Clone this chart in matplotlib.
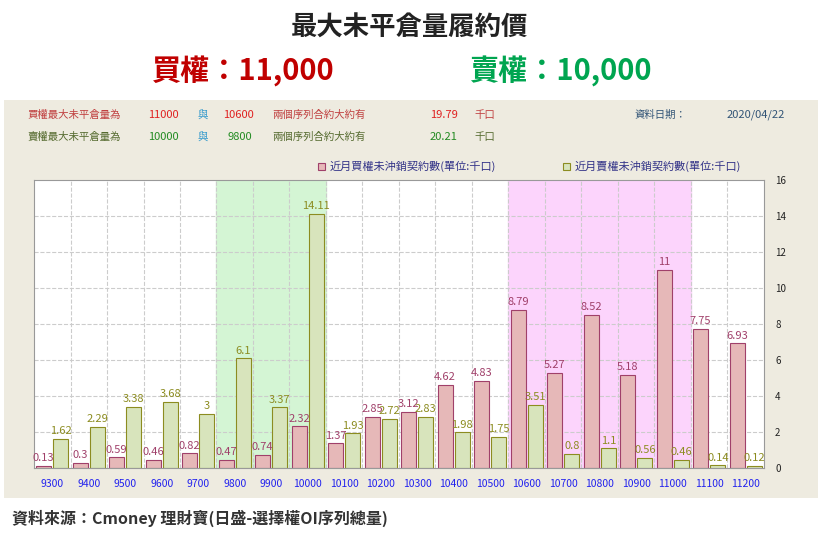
import matplotlib
matplotlib.use("Agg")
import matplotlib.pyplot as plt
from matplotlib import font_manager
from matplotlib.patches import Rectangle
import numpy as np

names = sorted({f.name for f in font_manager.fontManager.ttflist if 'CJK' in f.name})
pick = [n for n in names if 'TC' in n] or names
plt.rcParams['font.family'] = (pick[:1] if pick else []) + ['DejaVu Sans']

strikes = ['9300','9400','9500','9600','9700','9800','9900','10000','10100','10200',
           '10300','10400','10500','10600','10700','10800','10900','11000','11100','11200']
calls = [0.13,0.3,0.59,0.46,0.82,0.47,0.74,2.32,1.37,2.85,3.12,4.62,4.83,8.79,5.27,8.52,5.18,11,7.75,6.93]
puts = [1.62,2.29,3.38,3.68,3,6.1,3.37,14.11,1.93,2.72,2.83,1.98,1.75,3.51,0.8,1.1,0.56,0.46,0.14,0.12]
call_lbls = ['0.13','0.3','0.59','0.46','0.82','0.47','0.74','2.32','1.37','2.85','3.12','4.62','4.83','8.79','5.27','8.52','5.18','11','7.75','6.93']
put_lbls = ['1.62','2.29','3.38','3.68','3','6.1','3.37','14.11','1.93','2.72','2.83','1.98','1.75','3.51','0.8','1.1','0.56','0.46','0.14','0.12']

W, H = 820, 541
fig = plt.figure(figsize=(W/100, H/100), dpi=100)
fig.patch.set_facecolor('white')

bg = fig.add_axes([4/W, 1-498/H, 814/W, 398/H], zorder=-5)
bg.set_facecolor('#eeebe0'); bg.set_xticks([]); bg.set_yticks([])
for s in bg.spines.values(): s.set_visible(False)

fig.text(0.5, 1-28/H, '最大未平倉量履約價', ha='center', va='center', fontsize=19, fontweight='bold', color='#222222')
fig.text(243/W, 1-71/H, '買權：11,000', ha='center', va='center', fontsize=21, fontweight='bold', color='#c00000')
fig.text(560/W, 1-71/H, '賣權：10,000', ha='center', va='center', fontsize=21, fontweight='bold', color='#00a550')

fs = 7.5
y1, y2 = 1-115/H, 1-137/H
fig.text(27/W, y1, '買權最大未平倉量為', fontsize=fs, color='#c04040', va='center')
fig.text(148/W, y1, '11000', fontsize=fs+0.5, color='#e02020', va='center')
fig.text(198/W, y1, '與', fontsize=fs, color='#3399cc', va='center')
fig.text(223/W, y1, '10600', fontsize=fs+0.5, color='#e02020', va='center')
fig.text(272/W, y1, '兩個序列合約大約有', fontsize=fs, color='#c04040', va='center')
fig.text(430/W, y1, '19.79', fontsize=fs+0.5, color='#e02020', va='center')
fig.text(474/W, y1, '千口', fontsize=fs, color='#c04040', va='center')
fig.text(635/W, y1, '資料日期：', fontsize=fs, color='#335577', va='center')
fig.text(727/W, y1, '2020/04/22', fontsize=fs+0.5, color='#335577', va='center')
fig.text(27/W, y2, '賣權最大未平倉量為', fontsize=fs, color='#556b2f', va='center')
fig.text(148/W, y2, '10000', fontsize=fs+0.5, color='#228b22', va='center')
fig.text(198/W, y2, '與', fontsize=fs, color='#3399cc', va='center')
fig.text(228/W, y2, '9800', fontsize=fs+0.5, color='#228b22', va='center')
fig.text(272/W, y2, '兩個序列合約大約有', fontsize=fs, color='#556b2f', va='center')
fig.text(430/W, y2, '20.21', fontsize=fs+0.5, color='#228b22', va='center')
fig.text(474/W, y2, '千口', fontsize=fs, color='#556b2f', va='center')

ax = fig.add_axes([34/W, 1-468/H, 730/W, 288/H])
ax.set_facecolor('white')
x = np.arange(len(strikes))
ax.set_xlim(-0.5, len(strikes)-0.5)
ax.set_ylim(0, 16)
ax.axvspan(4.5, 7.5, color='#d4f5d4', zorder=0)
ax.axvspan(12.5, 17.5, color='#fcd4fc', zorder=0)
for b in np.arange(0.5, len(strikes)-0.5, 1):
    ax.axvline(b, color='#cccccc', ls='--', lw=0.8, zorder=1)
for yv in range(2, 16, 2):
    ax.axhline(yv, color='#cccccc', ls='--', lw=0.8, zorder=1)
bw = 0.42
off = 0.235
ax.bar(x-off, calls, bw, color='#e6b8b8', edgecolor='#a0406a', lw=0.8, zorder=2)
ax.bar(x+off, puts, bw, color='#d8e4bc', edgecolor='#8c8c20', lw=0.8, zorder=2)
for i in x:
    ax.text(i-off, calls[i]+0.15, call_lbls[i], ha='center', va='bottom', fontsize=8, color='#a0406a', zorder=3)
    ax.text(i+off, puts[i]+0.15, put_lbls[i], ha='center', va='bottom', fontsize=8, color='#8c8c20', zorder=3)
ax.set_xticks(x)
ax.set_xticklabels(strikes, fontsize=7.5, color='#2222ee')
ax.yaxis.tick_right()
ax.set_yticks(range(0, 17, 2))
ax.tick_params(axis='y', labelsize=7, length=0, colors='#222222', pad=8)
ax.tick_params(axis='x', length=0, pad=8)
for s in ax.spines.values():
    s.set_color('#999999'); s.set_linewidth(0.8)

fig.patches.append(Rectangle((318/W, 1-170/H), 7/W, 7/H, transform=fig.transFigure, facecolor='#e6b8b8', edgecolor='#a0406a', lw=0.8))
fig.text(330/W, 1-166/H, '近月買權未沖銷契約數(單位:千口)', fontsize=8, color='#333388', va='center')
fig.patches.append(Rectangle((563/W, 1-170/H), 7/W, 7/H, transform=fig.transFigure, facecolor='#d8e4bc', edgecolor='#8c8c20', lw=0.8))
fig.text(575/W, 1-166/H, '近月賣權未沖銷契約數(單位:千口)', fontsize=8, color='#333388', va='center')

fig.text(12/W, 1-518/H, '資料來源：Cmoney 理財寶(日盛-選擇權OI序列總量)', fontsize=11.5, color='#333333', va='center', fontweight='bold')

fig.savefig('out.png', dpi=100)
